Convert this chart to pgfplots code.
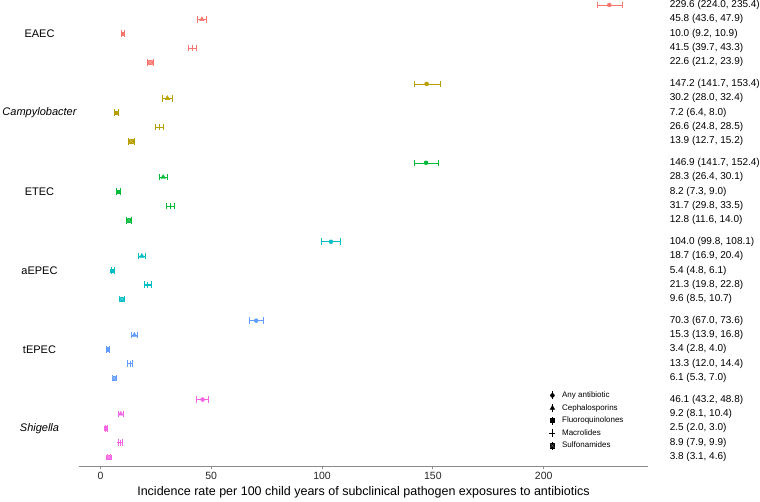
\documentclass[border=0pt]{standalone}
\usepackage{pgfplots}
\pgfplotsset{compat=1.18}
\usepackage{pgfplotstable}
\usepackage{fontspec}
\setmainfont{Liberation Sans}
\definecolor{cEAEC}{HTML}{F8766D}
\definecolor{cCamp}{HTML}{B79F00}
\definecolor{cETEC}{HTML}{00BA38}
\definecolor{caEPEC}{HTML}{00BFC4}
\definecolor{ctEPEC}{HTML}{619CFF}
\definecolor{cShig}{HTML}{F564E3}
\definecolor{axgray}{HTML}{8A8A8A}

\pgfdeclareplotmark{boxx}{%
  \pgfpathrectangle{\pgfpoint{-\pgfplotmarksize}{-\pgfplotmarksize}}{\pgfpoint{2\pgfplotmarksize}{2\pgfplotmarksize}}%
  \pgfusepathqfillstroke
  \pgfpathmoveto{\pgfpoint{-\pgfplotmarksize}{-\pgfplotmarksize}}\pgfpathlineto{\pgfpoint{\pgfplotmarksize}{\pgfplotmarksize}}%
  \pgfpathmoveto{\pgfpoint{-\pgfplotmarksize}{\pgfplotmarksize}}\pgfpathlineto{\pgfpoint{\pgfplotmarksize}{-\pgfplotmarksize}}%
  \pgfsetstrokeopacity{0.45}\pgfsetstrokecolor{white}\pgfsetlinewidth{0.25pt}\pgfusepathqstroke}

\pgfplotsset{lgsym/.style={legend image code/.code={%
  \draw[black, line width=0.5pt] (0pt,-4pt)--(0pt,4pt);
  \draw[##1] plot coordinates {(0pt,0pt)};
  \path (-2.5pt,0pt) (8.5pt,0pt);}}}

% rows: any, ceph, fluoro, macro, sulf
\pgfplotstableread{
y e l h
0 229.6 224.0 235.4
-1 45.8 43.6 47.9
-2 10.0 9.2 10.9
-3 41.5 39.7 43.3
-4 22.6 21.2 23.9
}\tEAEC
\pgfplotstableread{
y e l h
-5.5 147.2 141.7 153.4
-6.5 30.2 28.0 32.4
-7.5 7.2 6.4 8.0
-8.5 26.6 24.8 28.5
-9.5 13.9 12.7 15.2
}\tCamp
\pgfplotstableread{
y e l h
-11 146.9 141.7 152.4
-12 28.3 26.4 30.1
-13 8.2 7.3 9.0
-14 31.7 29.8 33.5
-15 12.8 11.6 14.0
}\tETEC
\pgfplotstableread{
y e l h
-16.5 104.0 99.8 108.1
-17.5 18.7 16.9 20.4
-18.5 5.4 4.8 6.1
-19.5 21.3 19.8 22.8
-20.5 9.6 8.5 10.7
}\taEPEC
\pgfplotstableread{
y e l h
-22 70.3 67.0 73.6
-23 15.3 13.9 16.8
-24 3.4 2.8 4.0
-25 13.3 12.0 14.4
-26 6.1 5.3 7.0
}\ttEPEC
\pgfplotstableread{
y e l h
-27.5 46.1 43.2 48.8
-28.5 9.2 8.1 10.4
-29.5 2.5 2.0 3.0
-30.5 8.9 7.9 9.9
-31.5 3.8 3.1 4.6
}\tShig

\newcommand{\pt}[5]{%
  \addplot[color=#2, only marks, forget plot, #5,
    skip coords between index={0}{#3}, skip coords between index={#4}{5},
    error bars/.cd, x dir=both, x explicit,
    error bar style={color=#2, line width=0.5pt, solid},
    error mark=|,
    error mark options={color=#2, mark size=3.3pt, line width=0.5pt, solid}]
  table[x=e, y=y, x error plus expr=\thisrow{h}-\thisrow{e}, x error minus expr=\thisrow{e}-\thisrow{l}] {#1};
}
\newcommand{\grp}[2]{%
  \pt{#1}{#2}{0}{1}{mark=*, mark size=2pt, mark options={solid, draw=#2, fill=#2}}
  \pt{#1}{#2}{1}{2}{mark=triangle*, mark size=2.6pt, mark options={solid, draw=#2, fill=#2}}
  \pt{#1}{#2}{2}{3}{mark=square*, mark size=1.7pt, mark options={solid, draw=#2, fill=#2}}
  \pt{#1}{#2}{3}{4}{mark=+, mark size=3pt, mark options={solid, draw=#2, line width=0.6pt}}
  \pt{#1}{#2}{4}{5}{mark=boxx, mark size=2.2pt, mark options={solid, draw=#2, fill=#2}}
}
\newcommand{\rt}[2]{\node[anchor=west, inner sep=0pt, font=\fontsize{10}{12}\selectfont] at (axis cs:256.8,#1) {#2};}

\begin{document}
\begin{tikzpicture}[x=1pt,y=1pt]
\path[use as bounding box] (0,0) rectangle (760,501);
\begin{axis}[at={(79pt,35pt)}, anchor=south west, scale only axis,
  width=569pt, height=466pt,
  xmin=-9.67, xmax=247.07, ymin=-32.13, ymax=0.348,
  axis x line*=bottom, axis y line=none,
  x axis line style={axgray, line width=0.9pt, -},
  xtick={0,50,100,150,200}, tick align=outside, major tick length=3pt,
  xtick style={axgray, line width=0.8pt},
  /pgf/number format/assume math mode=true,
  xticklabel style={font=\fontsize{10.5}{12}\selectfont, text=black!85},
  xlabel={Incidence rate per 100 child years of subclinical pathogen exposures to antibiotics},
  xlabel style={font=\fontsize{12.5}{14}\selectfont, at={(axis description cs:0.5,0)}, anchor=center, yshift=-26pt},
  clip=false,
  legend style={at={(axis cs:202.5,-26.85)}, anchor=north west, draw=none, fill=none,
    font=\fontsize{8}{9.6}\selectfont, inner sep=0pt, row sep=2.6pt,
    nodes={inner sep=1pt, text height=6pt, text depth=2pt}},
  legend cell align=left,
]
\grp{\tEAEC}{cEAEC}
\grp{\tCamp}{cCamp}
\grp{\tETEC}{cETEC}
\grp{\taEPEC}{caEPEC}
\grp{\ttEPEC}{ctEPEC}
\grp{\tShig}{cShig}

\addlegendimage{black, mark=*, mark size=2pt, lgsym}
\addlegendimage{black, mark=triangle*, mark size=2.6pt, lgsym}
\addlegendimage{black, mark=square*, mark size=2pt, lgsym}
\addlegendimage{black, mark=+, mark size=3pt, lgsym}
\addlegendimage{black, mark=boxx, mark size=2.2pt, lgsym}
\legend{Any antibiotic, Cephalosporins, Fluoroquinolones, Macrolides, Sulfonamides}

\node[font=\fontsize{11}{13}\selectfont] at (axis cs:-27.5,-2) {EAEC};
\node[font=\fontsize{11}{13}\selectfont\itshape] at (axis cs:-27.5,-7.5) {Campylobacter};
\node[font=\fontsize{11}{13}\selectfont] at (axis cs:-27.5,-13) {ETEC};
\node[font=\fontsize{11}{13}\selectfont] at (axis cs:-27.5,-18.5) {aEPEC};
\node[font=\fontsize{11}{13}\selectfont] at (axis cs:-27.5,-24) {tEPEC};
\node[font=\fontsize{11}{13}\selectfont\itshape] at (axis cs:-27.5,-29.5) {Shigella};

\rt{0}{229.6 (224.0, 235.4)}
\rt{-1}{45.8 (43.6, 47.9)}
\rt{-2}{10.0 (9.2, 10.9)}
\rt{-3}{41.5 (39.7, 43.3)}
\rt{-4}{22.6 (21.2, 23.9)}
\rt{-5.5}{147.2 (141.7, 153.4)}
\rt{-6.5}{30.2 (28.0, 32.4)}
\rt{-7.5}{7.2 (6.4, 8.0)}
\rt{-8.5}{26.6 (24.8, 28.5)}
\rt{-9.5}{13.9 (12.7, 15.2)}
\rt{-11}{146.9 (141.7, 152.4)}
\rt{-12}{28.3 (26.4, 30.1)}
\rt{-13}{8.2 (7.3, 9.0)}
\rt{-14}{31.7 (29.8, 33.5)}
\rt{-15}{12.8 (11.6, 14.0)}
\rt{-16.5}{104.0 (99.8, 108.1)}
\rt{-17.5}{18.7 (16.9, 20.4)}
\rt{-18.5}{5.4 (4.8, 6.1)}
\rt{-19.5}{21.3 (19.8, 22.8)}
\rt{-20.5}{9.6 (8.5, 10.7)}
\rt{-22}{70.3 (67.0, 73.6)}
\rt{-23}{15.3 (13.9, 16.8)}
\rt{-24}{3.4 (2.8, 4.0)}
\rt{-25}{13.3 (12.0, 14.4)}
\rt{-26}{6.1 (5.3, 7.0)}
\rt{-27.5}{46.1 (43.2, 48.8)}
\rt{-28.5}{9.2 (8.1, 10.4)}
\rt{-29.5}{2.5 (2.0, 3.0)}
\rt{-30.5}{8.9 (7.9, 9.9)}
\rt{-31.5}{3.8 (3.1, 4.6)}
\end{axis}
\end{tikzpicture}
\end{document}
